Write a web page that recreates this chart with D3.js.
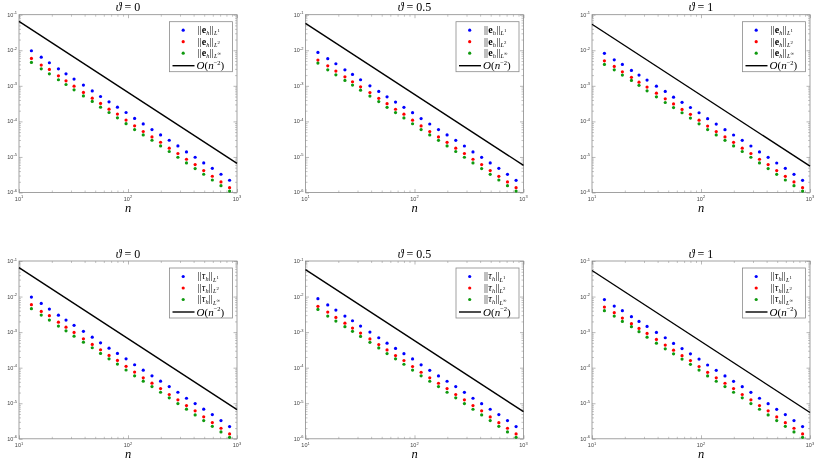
<!DOCTYPE html>
<html>
<head>
<meta charset="utf-8">
<script src="https://cdn.jsdelivr.net/npm/d3@7"></script>
<style>
  body { margin: 0; background: #fff; }
  /* own layer: grayscale antialiasing, no colour fringes on the thin norm bars */
  #chart { will-change: transform; }
  svg { display: block; }
</style>
</head>
<body>
<div id="chart"></div>
<script>
// grid sizes n (shared by every panel)
const nVals = [13, 16, 19, 23, 27, 32, 39, 47, 56, 67, 80, 96, 115, 138, 166, 199, 239, 287, 344, 413, 495, 594, 713, 855];
const thetaLabels = ["0", "0.5", "1"];

// top row: ||e_h||
const eL1_t0   = [9.7e-3, 6.4e-3, 4.45e-3, 3.0e-3, 2.18e-3, 1.55e-3, 1.05e-3, 7.2e-4, 5.0e-4, 3.54e-4, 2.51e-4, 1.78e-4, 1.21e-4, 8.5e-5, 5.9e-5, 4.17e-5, 2.95e-5, 2.04e-5, 1.38e-5, 9.8e-6, 6.8e-6, 4.8e-6, 3.26e-6, 2.21e-6];
const eL2_t0   = [5.9e-3, 3.83e-3, 2.9e-3, 1.91e-3, 1.38e-3, 9.8e-4, 6.5e-4, 4.5e-4, 3.19e-4, 2.21e-4, 1.6e-4, 1.09e-4, 7.5e-5, 5.2e-5, 3.66e-5, 2.59e-5, 1.76e-5, 1.25e-5, 8.6e-6, 6.1e-6, 4.14e-6, 2.86e-6, 1.98e-6, 1.37e-6];
const eLinf_t0 = [4.56e-3, 3.01e-3, 2.18e-3, 1.48e-3, 1.09e-3, 7.7e-4, 5.2e-4, 3.64e-4, 2.51e-4, 1.78e-4, 1.26e-4, 8.6e-5, 5.9e-5, 4.17e-5, 2.95e-5, 2.04e-5, 1.42e-5, 9.8e-6, 6.8e-6, 4.7e-6, 3.26e-6, 2.25e-6, 1.56e-6, 1.1e-6];

const eL1_t05   = [8.7e-3, 5.8e-3, 4.17e-3, 2.82e-3, 2.09e-3, 1.48e-3, 1.0e-3, 6.95e-4, 4.9e-4, 3.48e-4, 2.48e-4, 1.76e-4, 1.2e-4, 8.45e-5, 5.87e-5, 4.15e-5, 2.94e-5, 2.03e-5, 1.38e-5, 9.75e-6, 6.78e-6, 4.8e-6, 3.25e-6, 2.2e-6];
const eL2_t05   = [5.3e-3, 3.66e-3, 2.59e-3, 1.79e-3, 1.3e-3, 9.4e-4, 6.45e-4, 4.45e-4, 3.15e-4, 2.19e-4, 1.59e-4, 1.08e-4, 7.45e-5, 5.18e-5, 3.65e-5, 2.58e-5, 1.76e-5, 1.25e-5, 8.6e-6, 6.1e-6, 4.13e-6, 2.85e-6, 1.98e-6, 1.37e-6];
const eLinf_t05 = [4.36e-3, 2.82e-3, 2.04e-3, 1.42e-3, 1.05e-3, 7.56e-4, 5.15e-4, 3.6e-4, 2.49e-4, 1.77e-4, 1.25e-4, 8.58e-5, 5.9e-5, 4.16e-5, 2.94e-5, 2.04e-5, 1.42e-5, 9.8e-6, 6.78e-6, 4.7e-6, 3.25e-6, 2.25e-6, 1.56e-6, 1.1e-6];

const eL1_t1   = [8.2e-3, 5.4e-3, 4.0e-3, 2.71e-3, 2.0e-3, 1.45e-3, 9.8e-4, 6.95e-4, 4.8e-4, 3.44e-4, 2.46e-4, 1.75e-4, 1.19e-4, 8.4e-5, 5.85e-5, 4.14e-5, 2.93e-5, 2.03e-5, 1.38e-5, 9.75e-6, 6.76e-6, 4.8e-6, 3.25e-6, 2.2e-6];
const eL2_t1   = [5.06e-3, 3.52e-3, 2.48e-3, 1.73e-3, 1.27e-3, 9.2e-4, 6.22e-4, 4.31e-4, 3.1e-4, 2.17e-4, 1.58e-4, 1.08e-4, 7.4e-5, 5.17e-5, 3.65e-5, 2.58e-5, 1.76e-5, 1.25e-5, 8.6e-6, 6.1e-6, 4.13e-6, 2.85e-6, 1.98e-6, 1.37e-6];
const eLinf_t1 = [4.0e-3, 2.82e-3, 2.0e-3, 1.42e-3, 1.03e-3, 7.23e-4, 4.9e-4, 3.4e-4, 2.45e-4, 1.75e-4, 1.24e-4, 8.55e-5, 5.88e-5, 4.15e-5, 2.94e-5, 2.04e-5, 1.42e-5, 9.8e-6, 6.78e-6, 4.7e-6, 3.25e-6, 2.25e-6, 1.56e-6, 1.1e-6];

// bottom row: ||tau_h||
const tL1_t0   = [9.7e-3, 6.4e-3, 4.45e-3, 3.0e-3, 2.18e-3, 1.55e-3, 1.05e-3, 7.2e-4, 5.0e-4, 3.54e-4, 2.51e-4, 1.78e-4, 1.21e-4, 8.5e-5, 5.9e-5, 4.17e-5, 2.95e-5, 2.04e-5, 1.38e-5, 9.8e-6, 6.8e-6, 4.8e-6, 3.26e-6, 2.21e-6];
const tL2_t0   = [5.9e-3, 3.83e-3, 2.9e-3, 1.91e-3, 1.38e-3, 9.8e-4, 6.5e-4, 4.5e-4, 3.19e-4, 2.21e-4, 1.6e-4, 1.09e-4, 7.5e-5, 5.2e-5, 3.66e-5, 2.59e-5, 1.76e-5, 1.25e-5, 8.6e-6, 6.1e-6, 4.14e-6, 2.86e-6, 1.98e-6, 1.37e-6];
const tLinf_t0 = [4.56e-3, 3.01e-3, 2.18e-3, 1.48e-3, 1.09e-3, 7.7e-4, 5.2e-4, 3.64e-4, 2.51e-4, 1.78e-4, 1.26e-4, 8.6e-5, 5.9e-5, 4.17e-5, 2.95e-5, 2.04e-5, 1.42e-5, 9.8e-6, 6.8e-6, 4.7e-6, 3.26e-6, 2.25e-6, 1.56e-6, 1.1e-6];

const tL1_t05   = [8.7e-3, 5.8e-3, 4.17e-3, 2.82e-3, 2.09e-3, 1.48e-3, 1.0e-3, 6.95e-4, 4.9e-4, 3.48e-4, 2.48e-4, 1.76e-4, 1.2e-4, 8.45e-5, 5.87e-5, 4.15e-5, 2.94e-5, 2.03e-5, 1.38e-5, 9.75e-6, 6.78e-6, 4.8e-6, 3.25e-6, 2.2e-6];
const tL2_t05   = [5.3e-3, 3.66e-3, 2.59e-3, 1.79e-3, 1.3e-3, 9.4e-4, 6.45e-4, 4.45e-4, 3.15e-4, 2.19e-4, 1.59e-4, 1.08e-4, 7.45e-5, 5.18e-5, 3.65e-5, 2.58e-5, 1.76e-5, 1.25e-5, 8.6e-6, 6.1e-6, 4.13e-6, 2.85e-6, 1.98e-6, 1.37e-6];
const tLinf_t05 = [4.36e-3, 2.82e-3, 2.04e-3, 1.42e-3, 1.05e-3, 7.56e-4, 5.15e-4, 3.6e-4, 2.49e-4, 1.77e-4, 1.25e-4, 8.58e-5, 5.9e-5, 4.16e-5, 2.94e-5, 2.04e-5, 1.42e-5, 9.8e-6, 6.78e-6, 4.7e-6, 3.25e-6, 2.25e-6, 1.56e-6, 1.1e-6];

const tL1_t1   = [8.2e-3, 5.4e-3, 4.0e-3, 2.71e-3, 2.0e-3, 1.45e-3, 9.8e-4, 6.95e-4, 4.8e-4, 3.44e-4, 2.46e-4, 1.75e-4, 1.19e-4, 8.4e-5, 5.85e-5, 4.14e-5, 2.93e-5, 2.03e-5, 1.38e-5, 9.75e-6, 6.76e-6, 4.8e-6, 3.25e-6, 2.2e-6];
const tL2_t1   = [5.06e-3, 3.52e-3, 2.48e-3, 1.73e-3, 1.27e-3, 9.2e-4, 6.22e-4, 4.31e-4, 3.1e-4, 2.17e-4, 1.58e-4, 1.08e-4, 7.4e-5, 5.17e-5, 3.65e-5, 2.58e-5, 1.76e-5, 1.25e-5, 8.6e-6, 6.1e-6, 4.13e-6, 2.85e-6, 1.98e-6, 1.37e-6];
const tLinf_t1 = [4.0e-3, 2.82e-3, 2.0e-3, 1.42e-3, 1.03e-3, 7.23e-4, 4.9e-4, 3.4e-4, 2.45e-4, 1.75e-4, 1.24e-4, 8.55e-5, 5.88e-5, 4.15e-5, 2.94e-5, 2.04e-5, 1.42e-5, 9.8e-6, 6.78e-6, 4.7e-6, 3.25e-6, 2.25e-6, 1.56e-6, 1.1e-6];

// O(n^-2) reference line end points (n = 10 and n = 1000)
const refN   = [10, 1000];
const ref_t0  = [0.065, 6.6e-6];
const ref_t05 = [0.057, 5.8e-6];
const ref_t1  = [0.054, 5.5e-6];

const xTicks = [10, 100, 1000];
const xTickExp = ["1", "2", "3"];
const yTicks = [1e-6, 1e-5, 1e-4, 1e-3, 1e-2, 1e-1];
const yTickExp = ["-6", "-5", "-4", "-3", "-2", "-1"];
const normSubs = ["1", "2", "\u221E"];

const colors = ["#0000ff", "#ff0000", "#0f9a0f"];
const serif = "'Liberation Serif', 'DejaVu Serif', serif";
const sans = "'Liberation Sans', Arial, sans-serif";

const W = 822, H = 461;
const colX = [19, 305.5, 592];
const rowY = [14.7, 261];
const pw = 218, ph = 177.8;

const rows = [
  { sym: "e", sets: [[eL1_t0, eL2_t0, eLinf_t0], [eL1_t05, eL2_t05, eLinf_t05], [eL1_t1, eL2_t1, eLinf_t1]] },
  { sym: "tau", sets: [[tL1_t0, tL2_t0, tLinf_t0], [tL1_t05, tL2_t05, tLinf_t05], [tL1_t1, tL2_t1, tLinf_t1]] }
];
const refs = [ref_t0, ref_t05, ref_t1];

const svg = d3.select("#chart").append("svg")
  .attr("width", W).attr("height", H);

// minor log ticks 2..9 in each decade
const minorTicks = [];
for (let e = -6; e < 3; e++) {
  for (let m = 2; m <= 9; m++) minorTicks.push(m * Math.pow(10, e));
}

// lay out math pieces left to right, each its own text element
function mathRun(parent, x0, y0, pieces) {
  let x = x0;
  pieces.forEach((p) => {
    const t = parent.append("text")
      .attr("x", x).attr("y", y0 + (p.dy || 0))
      .attr("font-family", serif).attr("font-size", p.size)
      .attr("font-style", p.italic ? "italic" : null)
      .attr("font-weight", p.bold ? "bold" : null)
      .attr("fill", "#000")
      .text(p.t);
    x += t.node().getComputedTextLength() + (p.gap || 0);
  });
}

function normPieces(sym, sub) {
  const bar = { t: "||", size: 10, gap: 0.3 };
  const body = sym === "e" ? { t: "e", size: 10, bold: true }
                           : { t: "\u03C4", size: 10, italic: true };
  return [
    bar, body,
    { t: "h", size: 6.3, italic: true, dy: 2, gap: 0.2 },
    bar,
    { t: "L", size: 6.3, italic: true, dy: 2.4 },
    { t: sub, size: 4.8, dy: -0.6 }
  ];
}

rows.forEach((row, ri) => {
  thetaLabels.forEach((th, ci) => {
    const g = svg.append("g")
      .attr("transform", `translate(${colX[ci]},${rowY[ri]})`);

    const x = d3.scaleLog().domain([10, 1000]).range([0, pw]);
    const y = d3.scaleLog().domain([1e-6, 1e-1]).range([ph, 0]);

    // ticks on all four sides, pointing inward
    const tickColor = "#8a8a8a";
    const axes = [
      { ax: d3.axisBottom(x), tr: `translate(0,${ph})`, isX: true },
      { ax: d3.axisTop(x), tr: "translate(0,0)", isX: true },
      { ax: d3.axisLeft(y), tr: "translate(0,0)", isX: false },
      { ax: d3.axisRight(y), tr: `translate(${pw},0)`, isX: false }
    ];
    axes.forEach((a) => {
      const major = a.isX ? xTicks : yTicks;
      const minor = a.isX ? minorTicks.filter((v) => v > 10 && v < 1000)
                          : minorTicks.filter((v) => v > 1e-6 && v < 1e-1);
      g.append("g").attr("transform", a.tr)
        .call(a.ax.tickValues(minor).tickSize(-2).tickFormat(""))
        .call((s) => s.select(".domain").remove())
        .selectAll("line").attr("stroke", tickColor).attr("stroke-width", 0.5);
      g.append("g").attr("transform", a.tr)
        .call(a.ax.tickValues(major).tickSize(-3.5).tickFormat(""))
        .call((s) => s.select(".domain").remove())
        .selectAll("line").attr("stroke", tickColor).attr("stroke-width", 0.6);
    });

    // frame
    g.append("rect")
      .attr("width", pw).attr("height", ph)
      .attr("fill", "none").attr("stroke", tickColor).attr("stroke-width", 0.8);

    // tick labels
    xTicks.forEach((v, i) => {
      const t = g.append("text")
        .attr("x", x(v)).attr("y", ph + 8.5)
        .attr("text-anchor", "middle")
        .attr("font-family", sans).attr("font-size", 5.5).attr("fill", "#444");
      t.append("tspan").text("10");
      t.append("tspan").attr("font-size", 4).attr("dy", -2.5).text(xTickExp[i]);
    });
    yTicks.forEach((v, i) => {
      const t = g.append("text")
        .attr("x", -2).attr("y", y(v) + 2)
        .attr("text-anchor", "end")
        .attr("font-family", sans).attr("font-size", 5.5).attr("fill", "#444");
      t.append("tspan").text("10");
      t.append("tspan").attr("font-size", 4).attr("dy", -2.5).text(yTickExp[i]);
    });

    // reference slope
    const ref = refs[ci];
    g.append("path")
      .datum(refN.map((n, i) => [n, ref[i]]))
      .attr("fill", "none").attr("stroke", "#000").attr("stroke-width", 1.4)
      .attr("d", d3.line().x((d) => x(d[0])).y((d) => y(d[1])));

    // error points
    row.sets[ci].forEach((vals, si) => {
      g.append("g").selectAll("circle")
        .data(vals)
        .join("circle")
        .attr("cx", (d, i) => x(nVals[i]))
        .attr("cy", (d) => y(d))
        .attr("r", 1.6)
        .attr("fill", colors[si]);
    });

    // title and x label
    g.append("text")
      .attr("x", pw / 2).attr("y", -3.5)
      .attr("text-anchor", "middle")
      .attr("font-family", serif).attr("font-size", 12).attr("fill", "#000")
      .call((t) => {
        t.append("tspan").attr("font-style", "italic").text("\u03D1");
        t.append("tspan").text(" = " + th);
      });
    g.append("text")
      .attr("x", pw / 2).attr("y", ph + 19.5)
      .attr("text-anchor", "middle")
      .attr("font-family", serif).attr("font-style", "italic")
      .attr("font-size", 12.5).attr("fill", "#000")
      .text("n");

    // legend
    const lw = 63, lh = 50;
    const lg = g.append("g")
      .attr("transform", `translate(${pw - lw - 4.5},7)`);
    lg.append("rect")
      .attr("width", lw).attr("height", lh)
      .attr("fill", "#fff").attr("stroke", tickColor).attr("stroke-width", 0.8);
    const rowsY = [8.5, 20, 31.5];
    normSubs.forEach((sub, si) => {
      lg.append("circle")
        .attr("cx", 13.7).attr("cy", rowsY[si]).attr("r", 1.6)
        .attr("fill", colors[si]);
      mathRun(lg, 28, rowsY[si] + 2.9, normPieces(row.sym, sub));
    });
    lg.append("line")
      .attr("x1", 3).attr("x2", 25).attr("y1", 44).attr("y2", 44)
      .attr("stroke", "#000").attr("stroke-width", 1.4);
    mathRun(lg, 27, 47.5, [
      { t: "O", size: 11, italic: true },
      { t: "(", size: 11 },
      { t: "n", size: 11, italic: true },
      { t: "\u22122", size: 6.5, dy: -4.3 },
      { t: ")", size: 11 }
    ]);
  });
});
</script>
</body>
</html>
